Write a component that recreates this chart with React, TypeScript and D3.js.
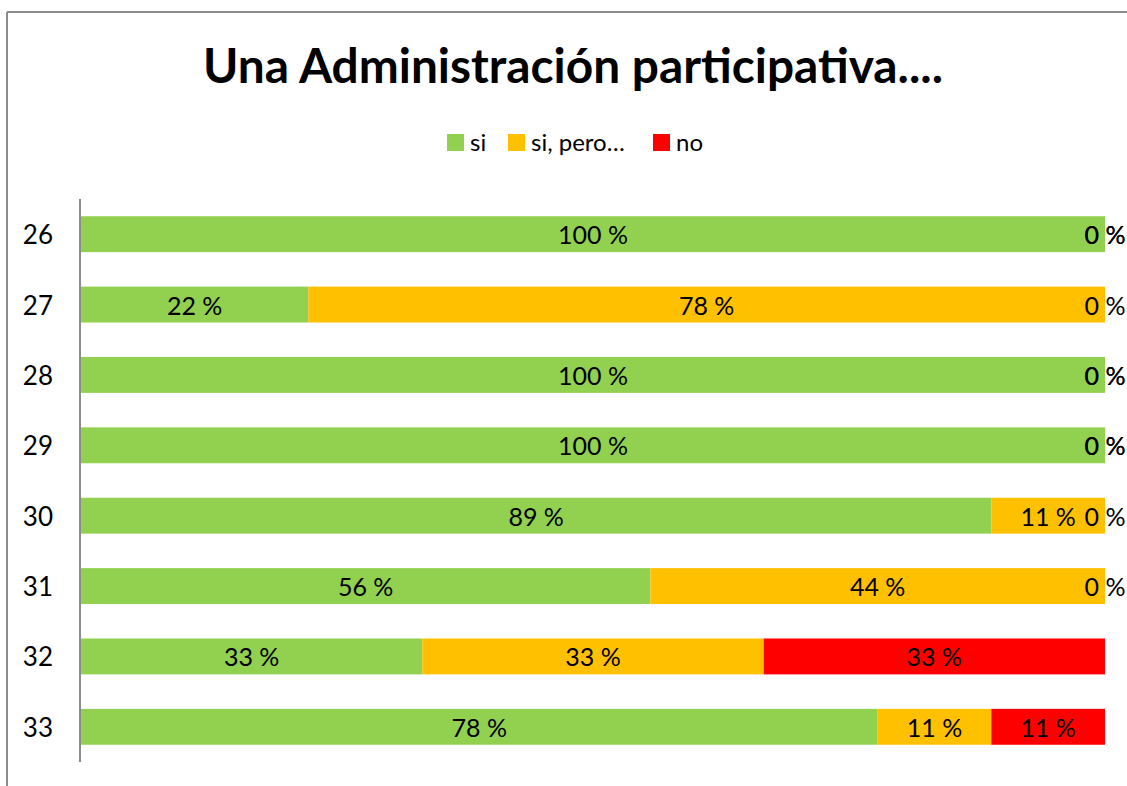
import React from "react";
import * as d3 from "d3";

const categories = ["26", "27", "28", "29", "30", "31", "32", "33"];
const seriesNames = ["si", "si, pero…", "no"];
const seriesColors = ["#92D050", "#FFC000", "#FF0000"];
const siValues = [100, 22.2, 100, 100, 88.9, 55.6, 33.3, 77.8];
const siPeroValues = [0, 77.8, 0, 0, 11.1, 44.4, 33.3, 11.1];
const noValues = [0, 0, 0, 0, 0, 0, 33.3, 11.1];
const title = "Una Administración participativa....";

const W = 1127;
const H = 786;
const FONT = "Lato, 'Open Sans', sans-serif";

export default function App() {
  const x = d3.scaleLinear().domain([0, 1]).range([81, 1105]);
  const y = d3
    .scaleBand<string>()
    .domain(categories)
    .range([199, 762])
    .paddingInner(0.49)
    .paddingOuter(0.245);

  const rows = categories.map((c, i) => ({
    cat: c,
    si: siValues[i],
    pero: siPeroValues[i],
    no: noValues[i],
  }));
  const keys = ["si", "pero", "no"];
  const stack = d3.stack<any>().keys(keys).offset(d3.stackOffsetExpand);
  const series = stack(rows);
  const bw = y.bandwidth();

  const legendItems = [
    { sx: 447, tx: 470 },
    { sx: 508, tx: 531 },
    { sx: 653, tx: 676 },
  ];

  return (
    <svg
      width={W}
      height={H}
      style={{ position: "absolute", left: 0, top: 0, background: "#fff" }}
      fontFamily={FONT}
    >
      {/* chart frame */}
      <line x1={7} y1={12} x2={W} y2={12} stroke="#8c8c8c" strokeWidth={2} />
      <line x1={7} y1={12} x2={7} y2={H} stroke="#8c8c8c" strokeWidth={2} />

      <text
        x={573}
        y={83}
        textAnchor="middle"
        fontSize={48}
        fontWeight="bold"
        textLength={740}
        lengthAdjust="spacingAndGlyphs"
        fill="#000"
      >
        {title}
      </text>

      {/* legend */}
      {seriesNames.map((n, i) => (
        <g key={n}>
          <rect x={legendItems[i].sx} y={134} width={17} height={17} fill={seriesColors[i]} />
          <text x={legendItems[i].tx} y={151} fontSize={24} fill="#000">
            {n}
          </text>
        </g>
      ))}

      {/* bars */}
      {series.map((s, si) => (
        <g key={s.key}>
          {s.map((d, j) => (
            <rect
              key={j}
              x={x(d[0])}
              y={y(categories[j])!}
              width={Math.max(0, x(d[1]) - x(d[0]))}
              height={bw}
              fill={seriesColors[si]}
            />
          ))}
        </g>
      ))}

      {/* data labels */}
      {series.map((s) => (
        <g key={"l" + s.key}>
          {s.map((d, j) => (
            <text
              key={j}
              x={(x(d[0]) + x(d[1])) / 2}
              y={y(categories[j])! + bw / 2 + 10}
              textAnchor="middle"
              fontSize={25}
              fill="#000"
            >
              {`${Math.round((d.data as any)[s.key])} %`}
            </text>
          ))}
        </g>
      ))}

      {/* y axis */}
      <line x1={80} y1={199} x2={80} y2={762} stroke="#8c8c8c" strokeWidth={2} />
      {categories.map((c) => (
        <text
          key={c}
          x={53}
          y={y(c)! + bw / 2 + 10}
          textAnchor="end"
          fontSize={26}
          fill="#000"
        >
          {c}
        </text>
      ))}
    </svg>
  );
}
